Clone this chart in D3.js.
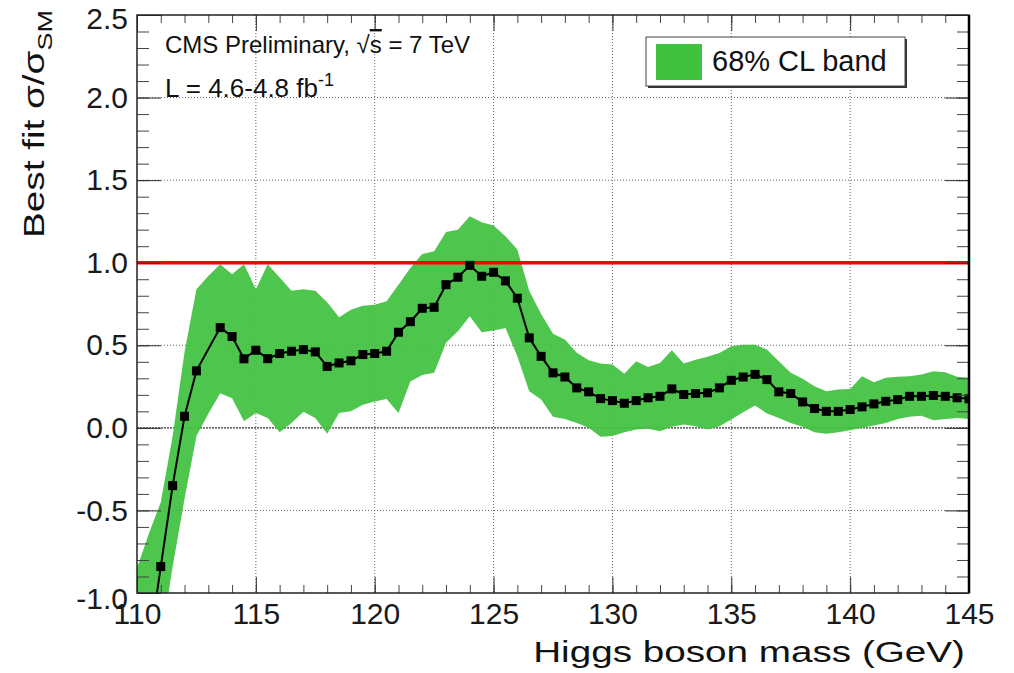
<!DOCTYPE html>
<html>
<head>
<meta charset="utf-8">
<script src="https://cdn.jsdelivr.net/npm/d3@7"></script>
<style>
  body { margin: 0; background: #fff; }
  svg { display: block; font-family: "Liberation Sans", Arial, Helvetica, sans-serif; }
</style>
</head>
<body>
<script>
'use strict';

// best fit signal strength (113.0 has no marker)
const fitMass = [110.5, 111.0, 111.5, 112.0, 112.5, 113.5, 114.0, 114.5, 115.0, 115.5,
  116.0, 116.5, 117.0, 117.5, 118.0, 118.5, 119.0, 119.5, 120.0, 120.5,
  121.0, 121.5, 122.0, 122.5, 123.0, 123.5, 124.0, 124.5, 125.0, 125.5,
  126.0, 126.5, 127.0, 127.5, 128.0, 128.5, 129.0, 129.5, 130.0, 130.5,
  131.0, 131.5, 132.0, 132.5, 133.0, 133.5, 134.0, 134.5, 135.0, 135.5,
  136.0, 136.5, 137.0, 137.5, 138.0, 138.5, 139.0, 139.5, 140.0, 140.5,
  141.0, 141.5, 142.0, 142.5, 143.0, 143.5, 144.0, 144.5, 145.0];
const fitValue = [-1.34, -0.84, -0.35, 0.07, 0.345, 0.607, 0.553, 0.418, 0.47, 0.419,
  0.45, 0.464, 0.474, 0.46, 0.372, 0.393, 0.406, 0.444, 0.45, 0.464,
  0.579, 0.643, 0.724, 0.73, 0.867, 0.912, 0.984, 0.918, 0.942, 0.89,
  0.785, 0.545, 0.433, 0.333, 0.308, 0.242, 0.218, 0.177, 0.165, 0.149,
  0.165, 0.182, 0.191, 0.236, 0.202, 0.208, 0.212, 0.242, 0.288, 0.308,
  0.324, 0.292, 0.218, 0.208, 0.157, 0.117, 0.100, 0.100, 0.111, 0.127,
  0.145, 0.161, 0.171, 0.191, 0.191, 0.196, 0.191, 0.182, 0.176];

// 68% CL band edges
const bandMass = [110.0, 110.5, 111.0, 111.5, 112.0, 112.5, 113.0, 113.5, 114.0, 114.5,
  115.0, 115.5, 116.0, 116.5, 117.0, 117.5, 118.0, 118.5, 119.0, 119.5,
  120.0, 120.5, 121.0, 121.5, 122.0, 122.5, 123.0, 123.5, 124.0, 124.5,
  125.0, 125.5, 126.0, 126.5, 127.0, 127.5, 128.0, 128.5, 129.0, 129.5,
  130.0, 130.5, 131.0, 131.5, 132.0, 132.5, 133.0, 133.5, 134.0, 134.5,
  135.0, 135.5, 136.0, 136.5, 137.0, 137.5, 138.0, 138.5, 139.0, 139.5,
  140.0, 140.5, 141.0, 141.5, 142.0, 142.5, 143.0, 143.5, 144.0, 144.5, 145.0];
const bandUpper = [-0.85, -0.64, -0.45, -0.05, 0.46, 0.84, 0.92, 0.99, 0.93, 0.99,
  0.84, 0.99, 0.91, 0.83, 0.84, 0.83, 0.76, 0.67, 0.715, 0.74,
  0.746, 0.766, 0.867, 0.968, 1.053, 1.07, 1.186, 1.2, 1.281, 1.245,
  1.226, 1.16, 1.08, 0.83, 0.69, 0.57, 0.535, 0.455, 0.41, 0.39,
  0.383, 0.327, 0.403, 0.369, 0.393, 0.47, 0.39, 0.413, 0.43, 0.454,
  0.494, 0.504, 0.504, 0.474, 0.403, 0.333, 0.297, 0.252, 0.222, 0.232,
  0.236, 0.312, 0.276, 0.303, 0.309, 0.312, 0.323, 0.343, 0.337, 0.309, 0.303];
const bandLower = [-1.9, -1.6, -1.3, -0.84, -0.43, -0.05, 0.085, 0.21, 0.18, 0.04,
  0.09, 0.06, -0.027, 0.03, 0.097, 0.06, -0.035, 0.09, 0.10, 0.14,
  0.16, 0.175, 0.09, 0.28, 0.32, 0.333, 0.515, 0.585, 0.676, 0.579,
  0.589, 0.605, 0.434, 0.222, 0.171, 0.068, 0.054, 0.03, 0.0, -0.054,
  -0.05, -0.027, -0.01, -0.006, -0.02, 0.006, 0.02, 0.01, -0.01, 0.01,
  0.05, 0.094, 0.135, 0.087, 0.06, 0.03, 0.006, -0.027, -0.035, -0.027,
  -0.015, 0.0, 0.014, 0.03, 0.054, 0.067, 0.074, 0.046, 0.054, 0.06, 0.054];

const xTicks = [110, 115, 120, 125, 130, 135, 140, 145];
const yTicks = [-1.0, -0.5, 0.0, 0.5, 1.0, 1.5, 2.0, 2.5];
const smValue = 1.0;
const legendLabel = "68% CL band";

(function() {

  let svgContainer = "";
  let xScale, yScale;

  const plotL = 137, plotR = 969, plotT = 15, plotB = 593;
  const bandGreen = "#41c23f";

  window.onload = function() {
    svgContainer = d3.select('body')
      .append('svg')
      .attr('width', 1014)
      .attr('height', 673);

    xScale = d3.scaleLinear().domain([110, 145]).range([plotL, plotR]);
    yScale = d3.scaleLinear().domain([-1, 2.5]).range([plotB, plotT]);

    svgContainer.append('defs').append('clipPath')
      .attr('id', 'plotClip')
      .append('rect')
      .attr('x', plotL).attr('y', plotT)
      .attr('width', plotR - plotL).attr('height', plotB - plotT);

    drawGrid();
    plotBand();
    plotFit();
    drawAxes();
    makeLegend();
    makeLabels();
  }

  // dotted grid at the major ticks
  function drawGrid() {
    let g = svgContainer.append('g');
    g.selectAll('.vgrid')
      .data(xTicks.slice(1, -1))
      .enter().append('line')
      .attr('x1', (d) => xScale(d)).attr('x2', (d) => xScale(d))
      .attr('y1', plotT).attr('y2', plotB)
      .attr('stroke', '#666')
      .attr('stroke-width', 1)
      .attr('stroke-dasharray', '1,2');

    g.selectAll('.hgrid')
      .data(yTicks.slice(1, -1))
      .enter().append('line')
      .attr('x1', plotL).attr('x2', plotR)
      .attr('y1', (d) => yScale(d)).attr('y2', (d) => yScale(d))
      .attr('stroke', (d) => d === 0 ? '#333' : '#666')
      .attr('stroke-width', (d) => d === 0 ? 1.3 : 1)
      .attr('stroke-dasharray', (d) => d === 0 ? '2,1' : '1,2');
  }

  // green 68% band
  function plotBand() {
    let rows = bandMass.map((m, i) => ({ m: m, lo: bandLower[i], hi: bandUpper[i] }));
    let area = d3.area()
      .x((d) => xScale(d.m))
      .y0((d) => yScale(d.lo))
      .y1((d) => yScale(d.hi));

    svgContainer.append('path')
      .datum(rows)
      .attr('clip-path', 'url(#plotClip)')
      .attr('d', area)
      .attr('fill', bandGreen)
      .attr('fill-opacity', 0.93);
  }

  // SM line, then best fit line with square markers
  function plotFit() {
    svgContainer.append('line')
      .attr('x1', xScale(110)).attr('x2', xScale(145))
      .attr('y1', yScale(smValue)).attr('y2', yScale(smValue))
      .attr('stroke', '#ff0000')
      .attr('stroke-width', 3.5);

    let rows = fitMass.map((m, i) => ({ m: m, v: fitValue[i] }));
    let g = svgContainer.append('g').attr('clip-path', 'url(#plotClip)');

    g.append('path')
      .datum(rows)
      .attr('d', d3.line().x((d) => xScale(d.m)).y((d) => yScale(d.v)))
      .attr('fill', 'none')
      .attr('stroke', '#000')
      .attr('stroke-width', 2);

    g.selectAll('.dot')
      .data(rows)
      .enter().append('rect')
      .attr('x', (d) => xScale(d.m) - 4.5)
      .attr('y', (d) => yScale(d.v) - 4.5)
      .attr('width', 9)
      .attr('height', 9)
      .attr('fill', '#000');
  }

  // frame, ticks on all four sides, tick labels
  function drawAxes() {
    let minorX = d3.range(110, 145.01, 1);
    let minorY = d3.range(-1, 2.501, 0.1);

    let axes = [
      { axis: d3.axisLeft(yScale), at: `translate(${plotL},0)`, minor: minorY, major: yTicks, big: 24, small: 12 },
      { axis: d3.axisRight(yScale), at: `translate(${plotR},0)`, minor: minorY, major: yTicks, big: 24, small: 12 },
      { axis: d3.axisBottom(xScale), at: `translate(0,${plotB})`, minor: minorX, major: xTicks, big: 16, small: 8 },
      { axis: d3.axisTop(xScale), at: `translate(0,${plotT})`, minor: minorX, major: xTicks, big: 16, small: 8 }
    ];

    // negative tick size points the ticks into the frame
    axes.forEach((a) => {
      let gMinor = svgContainer.append('g')
        .attr('transform', a.at)
        .call(a.axis.tickValues(a.minor).tickSize(-a.small).tickFormat(''));
      gMinor.select('.domain').remove();
      gMinor.selectAll('line').attr('stroke', '#444');

      let gMajor = svgContainer.append('g')
        .attr('transform', a.at)
        .call(a.axis.tickValues(a.major).tickSize(-a.big).tickFormat(''));
      gMajor.select('.domain').remove();
      gMajor.selectAll('line').attr('stroke', '#333');
    });

    svgContainer.append('rect')
      .attr('x', plotL).attr('y', plotT)
      .attr('width', plotR - plotL).attr('height', plotB - plotT)
      .attr('fill', 'none')
      .attr('stroke', '#222')
      .attr('stroke-width', 1.5);
    svgContainer.append('line')
      .attr('x1', plotR).attr('x2', plotR)
      .attr('y1', plotT).attr('y2', plotB)
      .attr('stroke', '#000')
      .attr('stroke-width', 2.5);

    // tick labels; the end labels sit a little lower, as in the original
    let yLab = svgContainer.append('g')
      .attr('transform', `translate(${plotL},0)`)
      .call(d3.axisLeft(yScale).tickValues(yTicks).tickSize(0).tickPadding(9)
        .tickFormat((d) => d.toFixed(1)));
    yLab.select('.domain').remove();
    yLab.selectAll('text')
      .style('font-size', '30px')
      .style('font-family', '"Liberation Sans", Arial, sans-serif')
      .attr('fill', '#1a1a1a')
      .attr('y', (d) => d === 2.5 ? 4 : (d === -1 ? 6 : 0));

    let xLab = svgContainer.append('g')
      .attr('transform', `translate(0,${plotB})`)
      .call(d3.axisBottom(xScale).tickValues(xTicks).tickSize(0).tickPadding(10)
        .tickFormat((d) => d));
    xLab.select('.domain').remove();
    xLab.selectAll('text')
      .style('font-size', '30px')
      .style('font-family', '"Liberation Sans", Arial, sans-serif')
      .attr('fill', '#1a1a1a');
  }

  function makeLegend() {
    let g = svgContainer.append('g');
    g.append('rect')
      .attr('x', 648).attr('y', 39)
      .attr('width', 259).attr('height', 49)
      .attr('fill', '#333');
    g.append('rect')
      .attr('x', 646).attr('y', 37)
      .attr('width', 259).attr('height', 49)
      .attr('fill', '#fff')
      .attr('stroke', '#444')
      .attr('stroke-width', 1);
    g.append('rect')
      .attr('x', 656).attr('y', 44)
      .attr('width', 46).attr('height', 36)
      .attr('fill', bandGreen);
    g.append('text')
      .attr('x', 712).attr('y', 71)
      .style('font-size', '29px')
      .attr('fill', '#111')
      .text(legendLabel);
  }

  // scale factor that brings a text to a given length
  function fitWidth(sel, target) {
    let w = sel.node().getComputedTextLength();
    return target / w;
  }

  function makeLabels() {
    let cms = svgContainer.append('text')
      .attr('x', 165).attr('y', 53)
      .style('font-size', '24px')
      .attr('fill', '#111');
    cms.append('tspan').text('CMS Preliminary, \u221A');
    cms.append('tspan').style('text-decoration', 'overline').text('s');
    cms.append('tspan').text(' = 7 TeV');

    let lumi = svgContainer.append('text')
      .attr('x', 165).attr('y', 97)
      .style('font-size', '26px')
      .attr('fill', '#111');
    lumi.append('tspan').text('L = 4.6-4.8 fb');
    lumi.append('tspan').attr('dy', -11).style('font-size', '18px').text('-1');

    let xTitle = svgContainer.append('text')
      .attr('text-anchor', 'end')
      .style('font-size', '30px')
      .attr('fill', '#111')
      .text('Higgs boson mass (GeV)');
    let sx = fitWidth(xTitle, 432);
    xTitle.attr('transform', `translate(965,662) scale(${sx},1)`);

    let yTitle = svgContainer.append('text')
      .attr('text-anchor', 'end')
      .style('font-size', '30px')
      .attr('fill', '#111');
    yTitle.append('tspan').text('Best fit \u03C3/\u03C3');
    yTitle.append('tspan').attr('dy', 8).style('font-size', '21px').text('SM');
    let sy = fitWidth(yTitle, 228);
    yTitle.attr('transform', `translate(44,10) rotate(-90) scale(${sy},1)`);
  }

})();
</script>
</body>
</html>
